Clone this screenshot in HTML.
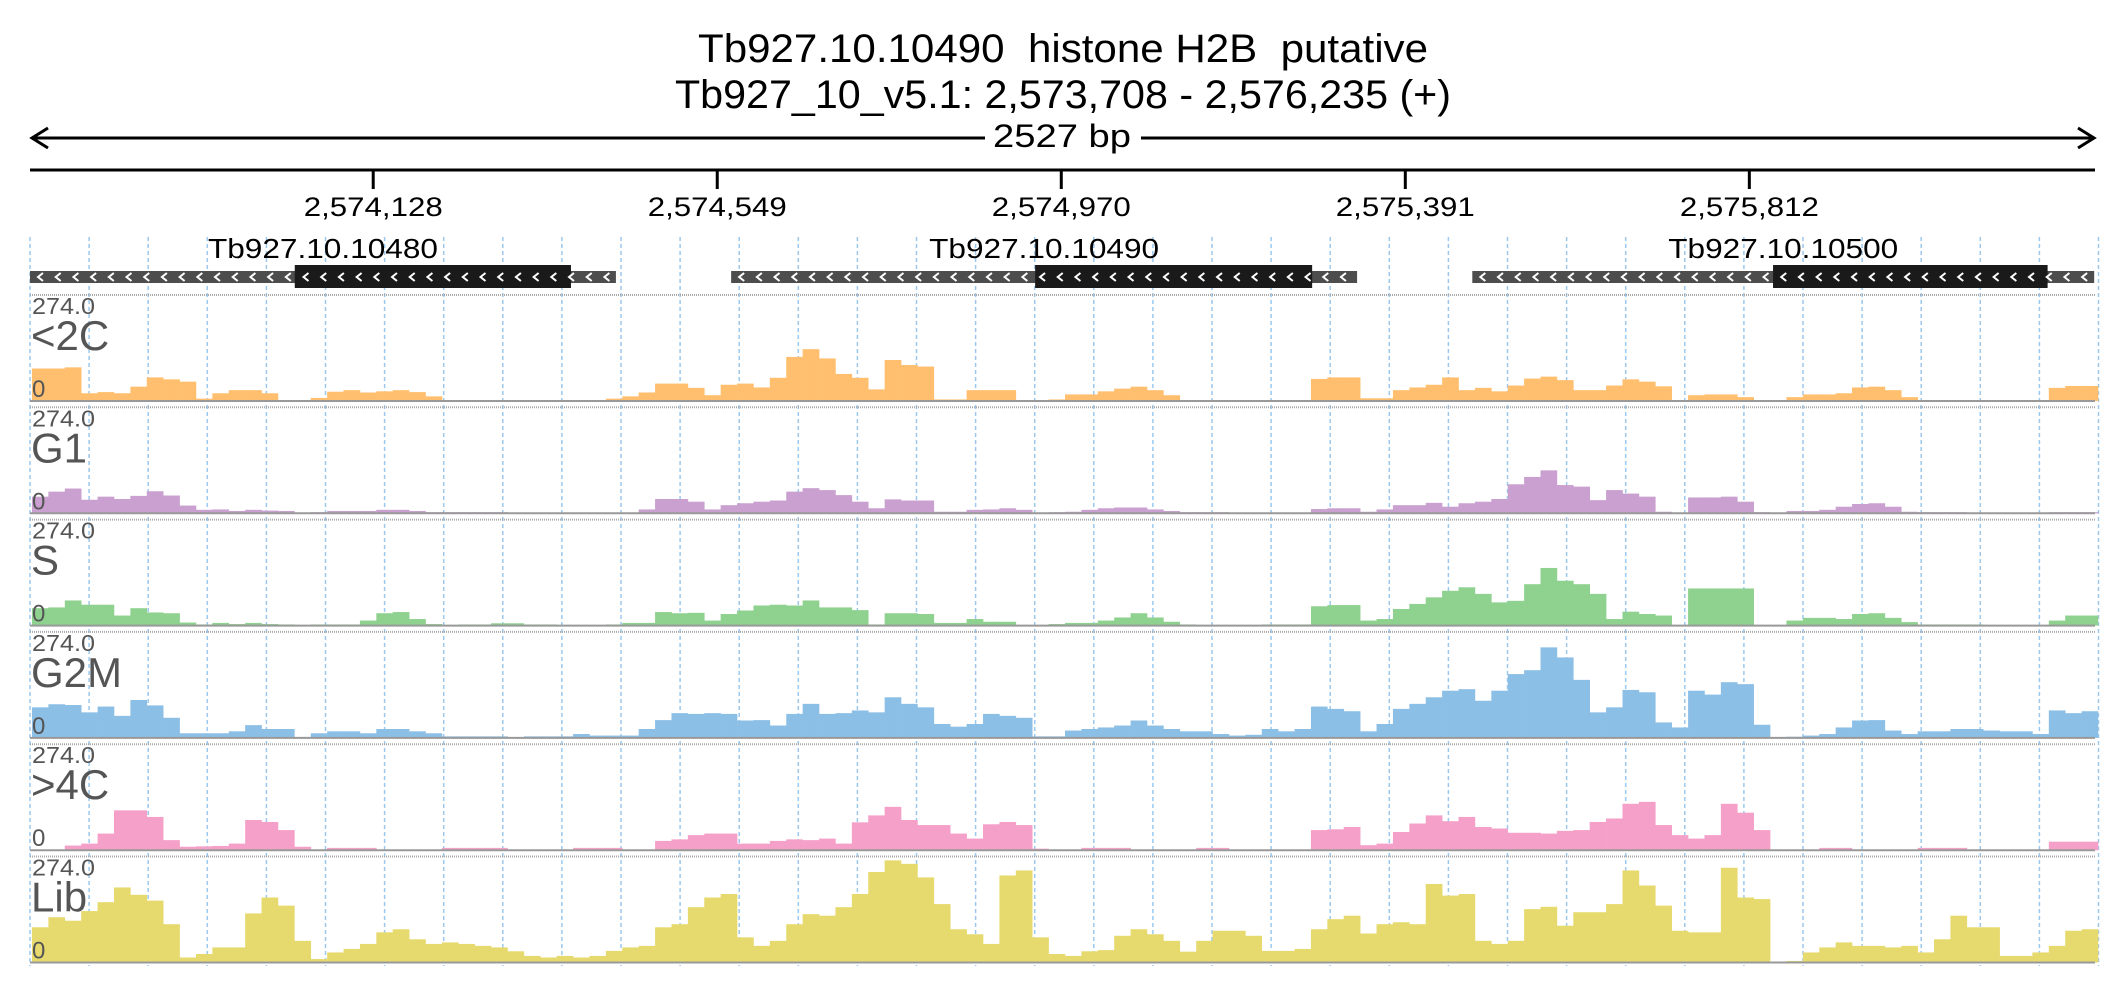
<!DOCTYPE html>
<html><head><meta charset="utf-8"><style>
html,body{margin:0;padding:0;background:#fff;}
svg{display:block;font-family:"Liberation Sans",sans-serif;}
text{white-space:pre;}
</style></head><body>
<svg id="chart" width="2126" height="1000" viewBox="0 0 2126 1000" xmlns="http://www.w3.org/2000/svg">
<g id="header">
<text x="698" y="62" font-size="40" textLength="730" lengthAdjust="spacingAndGlyphs" fill="#000" xml:space="preserve">Tb927.10.10490  histone H2B  putative</text>
<text x="675" y="108" font-size="40" textLength="776" lengthAdjust="spacingAndGlyphs" fill="#000">Tb927_10_v5.1: 2,573,708 - 2,576,235 (+)</text>
<line x1="32" y1="138" x2="985" y2="138" stroke="#000" stroke-width="3"/>
<line x1="1141" y1="138" x2="2094" y2="138" stroke="#000" stroke-width="3"/>
<polyline points="48,128 32,138 48,148" fill="none" stroke="#000" stroke-width="3"/>
<polyline points="2078,128 2094,138 2078,148" fill="none" stroke="#000" stroke-width="3"/>
<text x="993" y="147" font-size="32" textLength="138" lengthAdjust="spacingAndGlyphs">2527 bp</text>
<line x1="30" y1="170" x2="2095" y2="170" stroke="#000" stroke-width="3"/>
</g>
<g id="ticks"></g>
<g id="grid"></g>
<g id="genes"></g>
<g id="tracks"></g>
</svg>
<script>
const NS="http://www.w3.org/2000/svg";
const tickLabels=["2,574,128","2,574,549","2,574,970","2,575,391","2,575,812"];
const tickPos=[2574128,2574549,2574970,2575391,2575812];
const startBp=2573708, endBp=2576235;
const trackNames=["<2C","G1","S","G2M",">4C","Lib"];
const trackColors=["#ffbf6e","#c9a0cf","#8fd18e","#8cbfe6","#f5a0c8","#e6da6e"];
const maxVal=274;
const v2C=[84,84,87,20,23,20,37,61,56,50,6,20,28,28,20,0,0,8,24,28,22,25,28,23,12,0,0,0,0,0,0,0,0,0,0,6,12,22,45,45,34,15,42,45,35,60,114,134,110,70,60,30,106,93,89,4,4,28,28,28,0,0,4,
17,17,25,32,37,28,15,0,0,0,0,0,0,0,0,57,61,61,7,7,28,35,42,61,28,34,25,40,58,63,54,28,28,40,56,50,38,0,15,17,17,10,0,0,10,17,17,20,35,37,28,10,0,0,0,0,0,0,0,0,34,39,39];
const vG1=[43,56,64,35,43,37,45,57,46,20,9,10,6,9,7,6,0,3,6,6,6,9,9,6,3,3,3,3,3,0,0,0,0,0,0,0,0,10,37,37,30,10,21,26,30,33,56,65,60,47,30,13,36,33,33,4,4,9,10,13,9,0,3,
4,9,13,15,15,10,6,3,3,3,0,0,0,0,0,11,13,13,4,10,21,21,27,17,26,30,37,75,94,111,73,69,34,60,51,43,4,0,41,41,43,30,3,0,6,6,9,17,24,26,17,4,3,3,3,0,0,0,0,0,3,3,3];
const vS=[45,47,65,54,54,26,45,34,32,8,3,7,4,7,4,3,0,3,3,3,13,32,35,17,4,0,3,3,6,6,3,3,0,0,0,3,7,7,35,32,33,13,30,39,52,54,52,65,47,47,40,3,32,32,30,7,7,17,10,10,0,0,4,
7,7,13,21,32,21,10,3,0,0,0,0,3,3,3,50,53,53,13,17,43,56,73,90,99,82,60,64,107,149,116,107,82,17,36,30,26,0,96,96,96,96,0,0,13,20,20,17,30,32,20,9,3,3,3,3,0,0,0,0,13,26,26];
const vG2M=[79,87,85,66,81,57,98,84,52,12,12,12,17,33,23,23,0,12,17,17,12,23,23,17,12,4,4,4,4,0,4,4,4,10,6,6,6,23,46,64,62,64,62,45,46,32,62,88,62,64,71,66,105,88,79,36,29,36,62,57,52,4,4,
19,23,27,32,45,32,23,17,17,10,6,8,23,17,23,81,75,69,17,36,75,88,105,122,126,96,122,165,175,234,208,150,66,79,124,118,40,27,122,112,144,139,34,0,3,6,10,27,45,46,19,10,17,17,23,23,19,17,17,10,71,64,69];
const v4C=[0,0,12,17,43,103,103,86,26,9,10,11,17,78,73,52,9,0,6,6,6,0,0,0,0,6,6,6,6,0,0,0,0,6,6,6,0,0,24,28,39,43,43,17,17,24,28,26,30,17,72,90,112,78,65,65,43,30,67,73,65,4,0,
0,6,6,6,0,0,0,0,6,6,0,0,0,0,0,52,54,60,13,17,47,69,90,75,86,60,56,45,45,43,50,52,73,82,120,125,65,39,30,39,120,97,52,0,0,0,6,6,0,0,0,0,6,6,6,0,0,0,0,0,22,22,22];
const vLib=[91,117,108,133,156,194,175,160,99,13,22,39,39,127,168,147,56,9,26,35,48,78,86,60,48,52,48,43,39,29,17,13,17,13,17,30,39,43,91,99,143,168,177,65,43,56,99,125,121,143,177,234,264,255,220,151,86,73,48,225,238,65,22,
17,29,32,69,86,73,56,28,56,82,82,69,30,30,35,86,112,121,75,99,104,99,203,173,177,56,48,56,138,144,95,130,130,151,238,199,147,82,78,78,245,168,164,0,4,26,39,52,43,43,39,43,26,60,121,91,91,17,17,26,43,82,86];
const series=[v2C,vG1,vS,vG2M,v4C,vLib];
const geneNames=["Tb927.10.10480","Tb927.10.10490","Tb927.10.10500"];
const geneUtrStart=[2573708,2574566,2575473];
const geneUtrEnd=[2574425,2575332,2576234];
const geneCdsStart=[2574032,2574938,2575841];
const geneCdsEnd=[2574370,2575277,2576177];

const X0=30,X1=2095;
function xBp(b){return X0+(b-startBp)/(endBp-startBp)*(X1-X0);}
const plotL=32,plotR=2098;
function xBin(i,n){return plotL+(plotR-plotL)*i/n;}
const trackTop0=295,trackStep=112.3,trackH=106;
function yVal(t,v){return trackTop0+t*trackStep+trackH-(v/maxVal)*trackH;}
function mk(tag,attrs,parent){const e=document.createElementNS(NS,tag);for(const k in attrs)e.setAttribute(k,attrs[k]);parent.appendChild(e);return e;}

const ticksG=document.getElementById('ticks');
tickPos.forEach((p,i)=>{
  const x=xBp(p);
  const l=mk('line',{x1:x,y1:170,x2:x,y2:189,stroke:'#000','stroke-width':3},ticksG);
  
  
  const t=mk('text',{x:x,y:216,'font-size':27,'text-anchor':'middle',textLength:139,lengthAdjust:'spacingAndGlyphs'},ticksG);
  t.textContent=tickLabels[i];
  
  
});

const gridG=document.getElementById('grid');
for(let k=0;k<=35;k++){
  const x=30+k*59.1;
  const l=mk('line',{x1:x,y1:237,x2:x,y2:966,stroke:'#9cc8ee','stroke-width':1.5,'stroke-dasharray':'4,3'},gridG);
  
  
}

const genesG=document.getElementById('genes');
geneNames.forEach((n,i)=>{
  const a=Math.max(xBp(geneUtrStart[i]),30), b=Math.min(xBp(geneUtrEnd[i]),2095);
  const c=xBp(geneCdsStart[i]), d=xBp(geneCdsEnd[i]);
  const g=mk('g',{},genesG);
  
  
  const lab=mk('text',{x:(a+b)/2,y:258,'font-size':28,'text-anchor':'middle',textLength:230,lengthAdjust:'spacingAndGlyphs'},g);
  lab.textContent=n;
  
  
  const r1=mk('rect',{x:a,y:271,width:b-a,height:12,fill:'#4d4d4d'},g);
  
  
  const r2=mk('rect',{x:c,y:265,width:d-c,height:23,fill:'#1a1a1a'},g);
  
  
  for(let x=a+5;x<b-8;x+=17.7){
    const ch=mk('polyline',{points:`${x+8},${273} ${x+3},${277} ${x+8},${281}`,fill:'none',stroke:'#fff','stroke-width':2},g);
    
    
  }
});

const tracksG=document.getElementById('tracks');
series.forEach((vals,t)=>{
  const top=trackTop0+t*trackStep, base=top+trackH;
  const g=mk('g',{},tracksG);
  
  
  const tl=mk('line',{x1:30,y1:top,x2:2095,y2:top,stroke:'#aaa','stroke-width':2,'stroke-dasharray':'1,1'},g);
  
  
  const n=vals.length;
  vals.forEach((v,i)=>{
    if(v<=0)return;
    const x=xBin(i,n), w=xBin(i+1,n)-x, y=yVal(t,v);
    const r=mk('rect',{x:x,y:y,width:w+0.3,height:base-y,fill:trackColors[t]},g);
    
    
  });
  const bl=mk('line',{x1:30,y1:base,x2:2095,y2:base,stroke:'#999','stroke-width':2},g);
  
  
  const mx=mk('text',{x:32,y:top+19,'font-size':23,fill:'#555',textLength:63,lengthAdjust:'spacingAndGlyphs'},g);
  mx.textContent='274.0';
  
  
  const nm=mk('text',{x:31,y:top+55,'font-size':42,fill:'#555'},g);
  nm.textContent=trackNames[t];
  
  
  const z=mk('text',{x:32,y:top+102,'font-size':24,fill:'#555'},g);
  z.textContent='0';
  
  
});
</script>
</body></html>
